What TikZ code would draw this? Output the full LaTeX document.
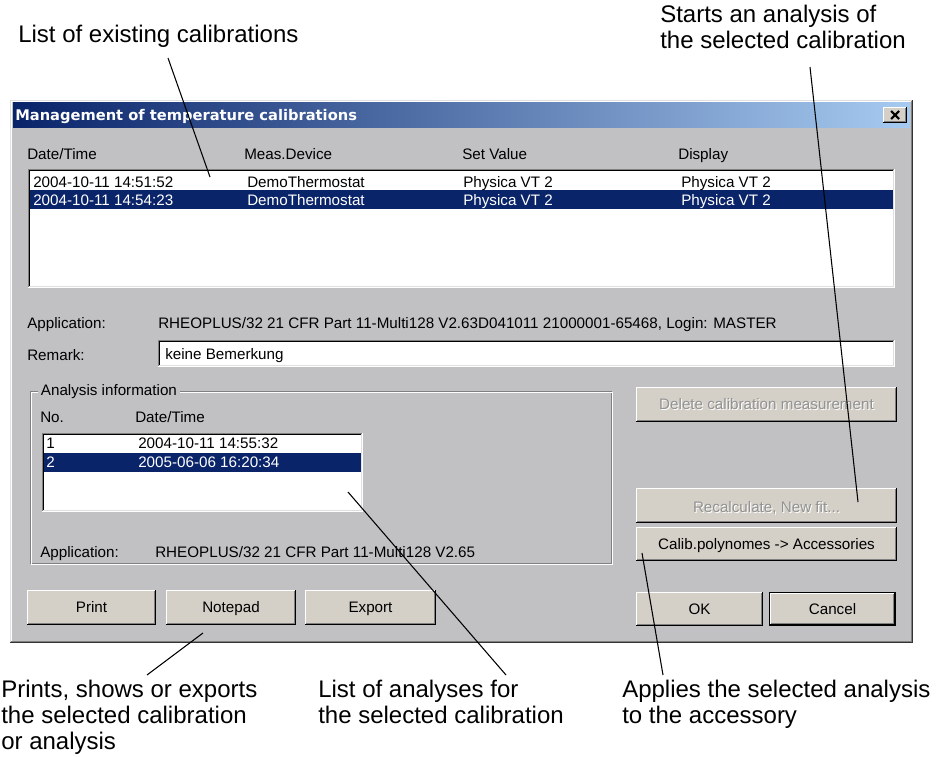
\documentclass[tikz,border=0pt]{standalone}
\usepackage{fontspec}
\setmainfont{Liberation Sans}
\newfontfamily\captionfont{DejaVu Sans}

\definecolor{dlgbg}{RGB}{193,193,196}
\definecolor{btnface}{RGB}{212,208,200}
\definecolor{selnavy}{RGB}{10,36,106}
\definecolor{titleL}{RGB}{10,36,106}
\definecolor{titleR}{RGB}{166,202,240}
\definecolor{shadowgray}{RGB}{128,128,128}
\definecolor{lightface}{RGB}{223,223,223}
\definecolor{graytext}{RGB}{146,146,146}

\newcommand\uifont{\fontsize{11.4}{13}\selectfont}
\newcommand\annfont{\fontsize{18}{19.6}\selectfont}

% raised 3D panel (buttons): x1 y1 x2 y2 in pixels
\newcommand\raisedpanel[4]{%
  \fill[btnface] (#1,#2) rectangle (#3,#4);
  \draw[white,line width=0.75pt] (#1+0.5,#4-1) -- (#1+0.5,#2+0.5) -- (#3-1,#2+0.5);
  \draw[shadowgray,line width=0.75pt] (#1+1,#4-1.5) -- (#3-1.5,#4-1.5) -- (#3-1.5,#2+1);
  \draw[black,line width=0.75pt] (#1,#4-0.5) -- (#3-0.5,#4-0.5) -- (#3-0.5,#2);
}
% sunken 3D field (lists, edit boxes)
\newcommand\sunkenfield[4]{%
  \fill[white] (#1,#2) rectangle (#3,#4);
  \draw[shadowgray,line width=0.75pt] (#1+0.5,#4-1) -- (#1+0.5,#2+0.5) -- (#3-1,#2+0.5);
  \draw[black,line width=0.75pt] (#1+1.5,#4-2) -- (#1+1.5,#2+1.5) -- (#3-2,#2+1.5);
  \draw[white,line width=0.75pt] (#1,#4-0.5) -- (#3-0.5,#4-0.5) -- (#3-0.5,#2);
  \draw[lightface,line width=0.75pt] (#1+1,#4-1.5) -- (#3-1.5,#4-1.5) -- (#3-1.5,#2+1);
}

\tikzset{
  ui/.style={font=\uifont, inner sep=0pt, anchor=base west},
  uisel/.style={ui, text=white},
  btntext/.style={font=\uifont, inner sep=0pt, anchor=base},
  btnoff/.style={btntext, text=graytext},
  btnoffshade/.style={btntext, text=white},
  ann/.style={font=\annfont, inner sep=0pt, anchor=north west, align=left},
  lead/.style={draw=black, line width=0.8pt},
}

\begin{document}
\begin{tikzpicture}[x=0.75pt,y=-0.75pt]
\useasboundingbox (0,0) rectangle (941,756);
\fill[white] (0,0) rectangle (941,756);

% ---------- dialog window ----------
\fill[dlgbg] (10,100) rectangle (913,643);
\draw[lightface,line width=0.75pt] (10.5,642) -- (10.5,100.5) -- (912,100.5);
\draw[white,line width=0.75pt] (11.5,641) -- (11.5,101.5) -- (911,101.5);
\draw[shadowgray,line width=0.75pt] (11,641.5) -- (911.5,641.5) -- (911.5,101);
\draw[black!80,line width=0.75pt] (10,642.5) -- (912.5,642.5) -- (912.5,100);

% caption bar
\shade[left color=titleL, right color=titleR] (13,103) rectangle (910,128);
\node[font=\captionfont\bfseries\fontsize{11}{13}\selectfont, text=white, inner sep=0pt, anchor=base west]
  (caption) at (15,121) {Management of temperature calibrations};
\raisedpanel{883}{107}{907}{123}
\draw[black,line width=1.6pt] (891,111) -- (899,119) (899,111) -- (891,119);

% ---------- calibration list ----------
\node[ui] (hDate)    at (27,160)  {Date/Time};
\node[ui] (hDevice)  at (244,160) {Meas.Device};
\node[ui] (hSet)     at (462,160) {Set Value};
\node[ui] (hDisplay) at (678,160) {Display};

\sunkenfield{28}{169}{895}{288}
\fill[selnavy] (30,190) rectangle (893,209);
\node[ui] (r1a) at (33,187)  {2004-10-11 14:51:52};
\node[ui] (r1b) at (247,187) {DemoThermostat};
\node[ui] (r1c) at (463,187) {Physica VT 2};
\node[ui] (r1d) at (681,187) {Physica VT 2};
\node[uisel] (r2a) at (33,205)  {2004-10-11 14:54:23};
\node[uisel] (r2b) at (247,205) {DemoThermostat};
\node[uisel] (r2c) at (463,205) {Physica VT 2};
\node[uisel] (r2d) at (681,205) {Physica VT 2};

% ---------- application / remark ----------
\node[ui] (appLbl) at (27,328)  {Application:};
\node[ui] (appVal) at (158,328) {RHEOPLUS/32 21 CFR Part 11-Multi128 V2.63D041011 21000001-65468, Login: MASTER};
\node[ui] (remLbl) at (27,360)  {Remark:};
\sunkenfield{158}{340}{895}{367}
\node[ui] (remVal) at (165,359) {keine Bemerkung};

% ---------- analysis information group ----------
\draw[shadowgray,line width=0.75pt] (30.5,391.5) rectangle (611.5,563.5);
\draw[white,line width=0.75pt] (31.5,392.5) -- (612.5,392.5) -- (612.5,564.5) -- (31.5,564.5) -- cycle;
\node[ui, fill=dlgbg, inner xsep=2pt] (grpLbl) at (38,395) {Analysis information};
\node[ui] (aNo)   at (40,422)  {No.};
\node[ui] (aDate) at (135,422) {Date/Time};
\sunkenfield{42}{433}{363}{512}
\fill[selnavy] (44,453) rectangle (361,472);
\node[ui] (a1n) at (46,448)  {1};
\node[ui] (a1d) at (138,448) {2004-10-11 14:55:32};
\node[uisel] (a2n) at (46,467)  {2};
\node[uisel] (a2d) at (138,467) {2005-06-06 16:20:34};
\node[ui] (aAppLbl) at (40,557)  {Application:};
\node[ui] (aAppVal) at (155,557) {RHEOPLUS/32 21 CFR Part 11-Multi128 V2.65};

% ---------- right-hand buttons ----------
\raisedpanel{636}{387}{897}{422}
\node[btnoffshade] at (767.5,410) {Delete calibration measurement};
\node[btnoff] (bDelete) at (766.5,409) {Delete calibration measurement};
\raisedpanel{636}{488}{897}{523}
\node[btnoffshade] at (767.5,513) {Recalculate, New fit...};
\node[btnoff] (bRecalc) at (766.5,512) {Recalculate, New fit...};
\raisedpanel{636}{527}{897}{561}
\node[btntext] (bCalib) at (766.5,549) {Calib.polynomes -> Accessories};

% ---------- bottom buttons ----------
\raisedpanel{27}{590}{156}{625}
\node[btntext] (bPrint) at (91.5,612) {Print};
\raisedpanel{166}{590}{296}{625}
\node[btntext] (bNotepad) at (231,612) {Notepad};
\raisedpanel{305}{590}{436}{625}
\node[btntext] (bExport) at (370.5,612) {Export};
\raisedpanel{636}{592}{763}{626}
\node[btntext] (bOK) at (699.5,614) {OK};
\raisedpanel{770}{593}{895}{625}
\draw[black,line width=0.75pt] (769.5,592.5) rectangle (895.5,625.5);
\node[btntext] (bCancel) at (832.5,614) {Cancel};

% ---------- annotations ----------
\node[ann] (nExisting) at (18,25) {List of existing calibrations};
\node[ann] (nStarts)   at (660,5) {Starts an analysis of\\the selected calibration};
\node[ann] (nPrints)   at (1,680) {Prints, shows or exports\\the selected calibration\\or analysis};
\node[ann] (nAnalyses) at (318,680) {List of analyses for\\the selected calibration};
\node[ann] (nApplies)  at (622,680) {Applies the selected analysis\\to the accessory};

% leader lines
\coordinate (eExisting) at (168,58);
\coordinate (tExisting) at (210,177);
\coordinate (eStarts)   at (810,67);
\coordinate (tStarts)   at (858,502);
\coordinate (ePrints)   at (147,675);
\coordinate (tPrints)   at (203,633);
\coordinate (eAnalyses) at (506,675);
\coordinate (tAnalyses) at (348,492);
\coordinate (eApplies)  at (663,675);
\coordinate (tApplies)  at (642,553);
\draw[lead] (eExisting) -- (tExisting);
\draw[lead] (eStarts) -- (tStarts);
\draw[lead] (ePrints) -- (tPrints);
\draw[lead] (eAnalyses) -- (tAnalyses);
\draw[lead] (eApplies) -- (tApplies);
\end{tikzpicture}
\end{document}
